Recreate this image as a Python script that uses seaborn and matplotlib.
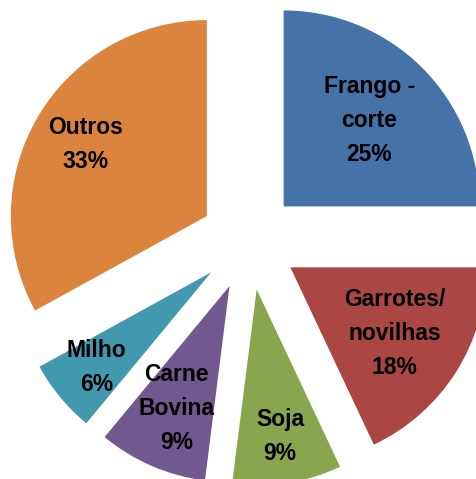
import numpy as np
import matplotlib
matplotlib.use("Agg")
import matplotlib.pyplot as plt
import seaborn as sns

categories = ["Frango -\ncorte", "Garrotes/\nnovilhas", "Soja", "Carne\nBovina", "Milho", "Outros"]
shares = [25, 18, 9, 9, 6, 33]
colors = ["#4572A7", "#AA4643", "#89A54E", "#71588F", "#4198AF", "#DB843D"]
label_dist = [0.62, 0.63, 0.76, 0.68, 0.76, 0.72]

sns.set_style("white")
plt.rcParams["font.family"] = ["Liberation Sans Narrow", "Liberation Sans", "DejaVu Sans"]

fig = plt.figure(figsize=(4.77, 4.79), dpi=100)
ax = fig.add_axes([0, 0, 1, 1])

labels = [f"{c}\n{v}%" for c, v in zip(categories, shares)]
wedges, texts = ax.pie(
    shares, colors=colors, startangle=90, counterclock=False,
    explode=[0.25] * len(shares), radius=1.0,
    labels=labels, labeldistance=0.7,
    textprops=dict(fontsize=16.5, fontweight="bold", color="black",
                   ha="center", va="center", linespacing=1.6),
    wedgeprops=dict(linewidth=0),
)

for w, t, d in zip(wedges, texts, label_dist):
    ang = np.deg2rad((w.theta1 + w.theta2) / 2)
    cx, cy = w.center
    t.set_position((cx + d * np.cos(ang), cy + d * np.sin(ang)))
    t.set_ha("center")
    t.set_va("center")

ax.set_xlim(-1.270, 1.163)
ax.set_ylim(-1.214, 1.230)
ax.set_aspect("equal")
ax.axis("off")

fig.savefig("out.png", dpi=100)
